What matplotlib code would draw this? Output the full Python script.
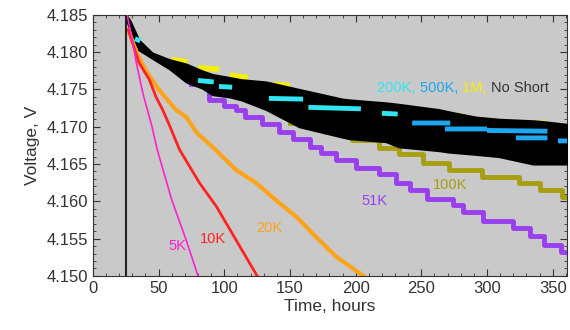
import matplotlib.pyplot as plt
from matplotlib.ticker import MultipleLocator

plt.rcParams['font.family'] = ['Liberation Sans', 'DejaVu Sans']

nan = float('nan')

# charging ramp (vertical line at t~25 h)
charge_x = [25, 25]
charge_y = [4.140, 4.185]

# 5K short
k5_x = [26, 30, 33, 38, 45, 49, 60, 71, 80, 82]
k5_y = [4.185, 4.1816, 4.1786, 4.1745, 4.170, 4.1669, 4.1602, 4.1548, 4.150, 4.149]

# 10K short
k10_x = [27, 35, 43, 48, 53, 58, 66, 81, 94, 109, 125, 127]
k10_y = [4.183, 4.1786, 4.1763, 4.174, 4.1723, 4.1703, 4.1669, 4.1625, 4.1593, 4.1548, 4.150, 4.1495]

# 20K short
k20_x = [27, 33, 40, 50, 63, 71, 79, 91, 109, 124, 139, 155, 170, 185, 205, 208]
k20_y = [4.183, 4.180, 4.1776, 4.175, 4.1723, 4.1713, 4.1692, 4.1673, 4.1642, 4.1625,
         4.1602, 4.1579, 4.1552, 4.1526, 4.1501, 4.1497]

# 51K short (earlier part hidden under the No Short band)
k51_x = [75, 88, 100, 109, 116, 129, 142, 152, 165, 174, 185, 200, 218,
         231, 241, 254, 274, 282, 297, 320, 333, 343, 356, 362]
k51_y = [4.1757, 4.1736, 4.1728, 4.1723, 4.1713, 4.1703, 4.1693,
         4.1683, 4.1673, 4.1665, 4.1656, 4.1645, 4.1636, 4.1625, 4.1615, 4.1603, 4.1595,
         4.1586, 4.1573, 4.1564, 4.1554, 4.1542, 4.1532, 4.1532]

# 100K short
k100_x = [150, 177, 197, 218, 233, 251, 271, 296, 324, 340, 357, 362]
k100_y = [4.1705, 4.1693, 4.1682, 4.1672, 4.1664, 4.1652, 4.1642,
          4.1633, 4.1625, 4.1615, 4.1606, 4.1606]

# No Short (spread of the noisy trace)
ns_x = [25, 28, 35, 45, 58, 71, 83, 91, 104, 113, 132, 157, 190, 195, 223, 233, 263,
        271, 291, 309, 335, 342, 362]
ns_hi = [4.185, 4.1843, 4.1816, 4.1799, 4.1790, 4.1784, 4.1775, 4.1770, 4.1766, 4.1763,
         4.1760, 4.1750, 4.1737, 4.1736, 4.1732, 4.1730, 4.1723, 4.1720, 4.1713, 4.1710,
         4.1708, 4.1707, 4.1703]
ns_lo = [4.1848, 4.1830, 4.1803, 4.1792, 4.1778, 4.1760, 4.1752, 4.1743, 4.1740, 4.1736,
         4.1723, 4.1700, 4.1686, 4.1684, 4.1680, 4.1673, 4.1668, 4.1666, 4.1663, 4.1660,
         4.1650, 4.1650, 4.1650]

# 1M (visible where it rises above the band)
m1_x = [60, 72, nan, 80, 96, nan, 104, 118, nan, 138, 150, nan, 196, 212, nan,
        270, 282, nan, 330, 345, nan, 352, 362]
m1_y = [4.1790, 4.1787, nan, 4.1779, 4.1777, nan, 4.1769, 4.1766, nan, 4.1757, 4.1755, nan,
        4.1725, 4.1723, nan, 4.1714, 4.1714, nan, 4.1705, 4.1705, nan, 4.1694, 4.1694]

# 200K (visible patches inside the band)
k200_x = [32, 36, nan, 80, 92, nan, 96, 106, nan, 134, 160, nan, 164, 204, nan, 220, 232]
k200_y = [4.1818, 4.1815, nan, 4.1762, 4.1760, nan, 4.1754, 4.1753, nan, 4.1738, 4.1737, nan,
          4.1726, 4.1724, nan, 4.1718, 4.1717]

# 500K (visible patches inside the band)
k500_x = [243, 272, nan, 268, 300, nan, 300, 346, nan, 322, 346, nan, 354, 362]
k500_y = [4.1705, 4.1705, nan, 4.1697, 4.1697, nan, 4.1695, 4.1694, nan, 4.1685, 4.1685, nan,
          4.1681, 4.1681]

fig = plt.figure(figsize=(5.7, 3.3), dpi=100)
ax = fig.add_axes([0.163, 0.164, 0.832, 0.791])
ax.set_facecolor('#c9c9c9')

ax.plot(k100_x, k100_y, color='#a89e12', lw=3.5, drawstyle='steps-post', zorder=2)
ax.plot(k51_x, k51_y, color='#9a3ff0', lw=3.5, drawstyle='steps-post', zorder=2)
ax.plot(m1_x, m1_y, color='#f5f000', lw=4, zorder=2, solid_capstyle='butt')
ax.fill_between(ns_x, ns_lo, ns_hi, color='black', lw=1.5,
                edgecolor='black', zorder=3)
ax.plot(k200_x, k200_y, color='#30e6f2', lw=3.5, zorder=4, solid_capstyle='butt')
ax.plot(k500_x, k500_y, color='#1ea6f0', lw=3.5, zorder=4, solid_capstyle='butt')
ax.plot(k20_x, k20_y, color='#ffa31a', lw=3, zorder=5)
ax.plot(k10_x, k10_y, color='#ff2222', lw=2, zorder=5)
ax.plot(k5_x, k5_y, color='#ff22cc', lw=1.2, zorder=5)
ax.plot(charge_x, charge_y, color='#222222', lw=1.5, zorder=6)

ax.text(64, 4.1540, '5K', color='#ff22cc', fontsize=10.5, ha='center', va='center')
ax.text(91, 4.1550, '10K', color='#ff2222', fontsize=10.5, ha='center', va='center')
ax.text(134, 4.1564, '20K', color='#ffa31a', fontsize=10.5, ha='center', va='center')
ax.text(214, 4.1600, '51K', color='#9a3ff0', fontsize=10.5, ha='center', va='center')
ax.text(272, 4.1622, '100K', color='#a89e12', fontsize=10.5, ha='center', va='center')

leg_parts = [('200K, ', '#30e6f2'), ('500K, ', '#1ea6f0'), ('1M, ', '#f5f000'),
             ('No Short', '#333333')]
x0 = 0.60
for s, c in leg_parts:
    t = ax.text(x0, 0.72, s, color=c, fontsize=10.5, transform=ax.transAxes,
                ha='left', va='center')
    fig.canvas.draw()
    bb = t.get_window_extent()
    x0 += bb.width / ax.get_window_extent().width

ax.set_xlim(0, 361)
ax.set_ylim(4.150, 4.185)
ax.xaxis.set_major_locator(MultipleLocator(50))
ax.xaxis.set_minor_locator(MultipleLocator(10))
ax.yaxis.set_major_locator(MultipleLocator(0.005))
ax.yaxis.set_minor_locator(MultipleLocator(0.001))
ax.yaxis.set_major_formatter(plt.FormatStrFormatter('%.3f'))
ax.tick_params(which='both', direction='in', top=True, right=True,
               colors='#333333', labelsize=12)
ax.tick_params(which='major', length=5)
ax.tick_params(which='minor', length=2.5)
for sp in ax.spines.values():
    sp.set_color('#333333')

ax.set_xlabel('Time, hours', fontsize=12.5, color='#333333', labelpad=2)
ax.set_ylabel('Voltage, V', fontsize=12.5, color='#333333', labelpad=5)

fig.savefig('out.png', dpi=100)
